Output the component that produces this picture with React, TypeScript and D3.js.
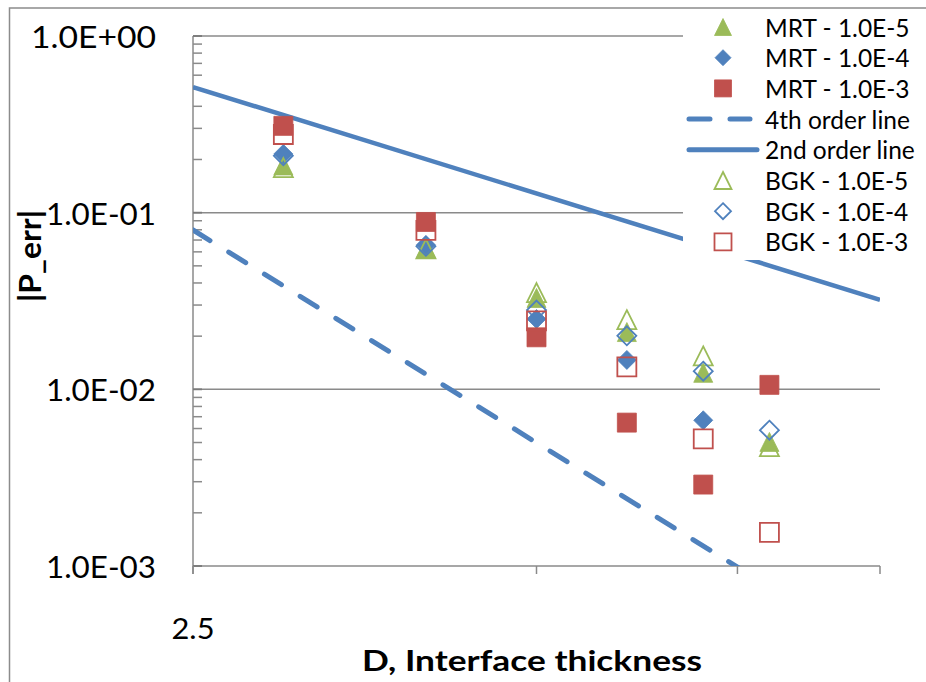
import React from "react";
import * as d3 from "d3";

const D = [3, 4, 5, 6, 7, 8];
const mrt5 = [0.185, 0.0627, 0.0329, 0.0211, 0.0124, 0.00504];
const mrt4 = [0.215, 0.0657, 0.025, 0.01467, 0.00668];
const mrt3 = [0.31, 0.0886, 0.0197, 0.00648, 0.00289, 0.0106];
const bgk5 = [0.18, 0.0625, 0.0353, 0.0248, 0.01545, 0.00474];
const bgk4 = [0.21, 0.0645, 0.0281, 0.0201, 0.01266, 0.00587];
const bgk3 = [0.277, 0.0793, 0.0244, 0.0134, 0.00524, 0.00155];

const lineD = [2.5, 10];
const secondOrder = [0.514, 0.0321];
const fourthOrder = [0.0798, 0.000312];

const yTicks = [1, 0.1, 0.01, 0.001];
const yTickLabels = ["1.0E+00", "1.0E-01", "1.0E-02", "1.0E-03"];
const xTicks = [2.5, 5, 7.5, 10];
const xTickLabels = ["2.5", "", "", ""];

const legendNames = [
  "MRT - 1.0E-5",
  "MRT - 1.0E-4",
  "MRT - 1.0E-3",
  "4th order line",
  "2nd order line",
  "BGK - 1.0E-5",
  "BGK - 1.0E-4",
  "BGK - 1.0E-3",
];

const GREEN = "#9BBB59";
const BLUE = "#4F81BD";
const RED = "#C0504D";
const GRID = "#8a8a8a";
const FONT = "Lato, 'Open Sans', sans-serif";

type Shape = "tri" | "dia" | "sq";

function Marker({ cx, cy, shape, color, filled, s }: { cx: number; cy: number; shape: Shape; color: string; filled: boolean; s: number }) {
  const h = s / 2;
  let d = "";
  if (shape === "tri") d = `M${cx},${cy - h}L${cx + h},${cy + h}L${cx - h},${cy + h}Z`;
  else if (shape === "dia") d = `M${cx},${cy - h}L${cx + h},${cy}L${cx},${cy + h}L${cx - h},${cy}Z`;
  else d = `M${cx - h},${cy - h}L${cx + h},${cy - h}L${cx + h},${cy + h}L${cx - h},${cy + h}Z`;
  return filled ? (
    <path d={d} fill={color} stroke={color} strokeWidth={0.8} strokeLinejoin="miter" />
  ) : (
    <path d={d} fill="none" stroke={color} strokeWidth={1.8} strokeLinejoin="miter" />
  );
}

export default function App() {
  const left = 193, right = 880, top = 36, bottom = 566;
  const x = d3.scaleLog().domain([2.5, 10]).range([left, right]);
  const y = d3.scaleLog().domain([0.001, 1]).range([bottom, top]);

  const minorTicks: number[] = [];
  for (let e = -3; e < 0; e++) {
    for (let k = 2; k <= 9; k++) minorTicks.push(k * Math.pow(10, e));
  }

  const line = d3
    .line<number>()
    .x((_, i) => x(lineD[i]))
    .y((v) => y(v));

  const series: { vals: number[]; shape: Shape; color: string; filled: boolean }[] = [
    { vals: mrt5, shape: "tri", color: GREEN, filled: true },
    { vals: mrt4, shape: "dia", color: BLUE, filled: true },
    { vals: mrt3, shape: "sq", color: RED, filled: true },
    { vals: bgk5, shape: "tri", color: GREEN, filled: false },
    { vals: bgk4, shape: "dia", color: BLUE, filled: false },
    { vals: bgk3, shape: "sq", color: RED, filled: false },
  ];

  const legendItems: { kind: string; shape?: Shape; color: string; filled?: boolean }[] = [
    { kind: "m", shape: "tri", color: GREEN, filled: true },
    { kind: "m", shape: "dia", color: BLUE, filled: true },
    { kind: "m", shape: "sq", color: RED, filled: true },
    { kind: "dash", color: BLUE },
    { kind: "solid", color: BLUE },
    { kind: "m", shape: "tri", color: GREEN, filled: false },
    { kind: "m", shape: "dia", color: BLUE, filled: false },
    { kind: "m", shape: "sq", color: RED, filled: false },
  ];

  const markerSize: Record<Shape, number> = { tri: 19, dia: 19, sq: 19 };
  const legendSize: Record<Shape, number> = { tri: 17, dia: 16, sq: 17 };

  return (
    <svg
      width={926}
      height={682}
      style={{ position: "fixed", left: 0, top: 0, background: "#fff" }}
      fontFamily={FONT}
    >
      <rect x={0} y={0} width={926} height={682} fill="#fff" />
      <rect x={9.5} y={8} width={960} height={720} fill="none" stroke="#8c8c8c" strokeWidth={1.5} />
      <defs>
        <clipPath id="plotclip">
          <rect x={left} y={top} width={right - left} height={bottom - top} />
        </clipPath>
      </defs>

      {/* gridlines */}
      {yTicks.map((t, i) => (
        <line key={"g" + i} x1={left} x2={right} y1={y(t)} y2={y(t)} stroke={GRID} strokeWidth={1.5} />
      ))}
      {/* y axis */}
      <line x1={left} x2={left} y1={top} y2={bottom + 8} stroke={GRID} strokeWidth={1.5} />
      {minorTicks.map((t, i) => (
        <line key={"m" + i} x1={left} x2={left + 9} y1={y(t)} y2={y(t)} stroke={GRID} strokeWidth={1.5} />
      ))}
      {yTicks.map((t, i) => (
        <line key={"mt" + i} x1={left} x2={left + 9} y1={y(t)} y2={y(t)} stroke="#7a7a7a" strokeWidth={1.8} />
      ))}
      {/* x axis ticks */}
      {xTicks.map((t, i) => (
        <line key={"xt" + i} x1={x(t)} x2={x(t)} y1={bottom} y2={bottom + 8} stroke={GRID} strokeWidth={1.5} />
      ))}

      {/* y tick labels */}
      {yTicks.map((t, i) => (
        <text
          key={"yl" + i}
          x={156}
          y={y(t)}
          textAnchor="end"
          dominantBaseline="central"
          fontSize={30}
          fill="#000"
          textLength={i === 0 ? 125 : 110}
          lengthAdjust="spacingAndGlyphs"
        >
          {yTickLabels[i]}
        </text>
      ))}
      {xTicks.map((t, i) =>
        xTickLabels[i] ? (
          <text
            key={"xl" + i}
            x={x(t)}
            y={628}
            textAnchor="middle"
            dominantBaseline="central"
            fontSize={28}
            fill="#000"
            textLength={43}
            lengthAdjust="spacingAndGlyphs"
          >
            {xTickLabels[i]}
          </text>
        ) : null
      )}

      {/* axis titles */}
      <text
        x={532}
        y={660}
        textAnchor="middle"
        dominantBaseline="central"
        fontSize={28}
        fontWeight="bold"
        fill="#000"
        textLength={340}
        lengthAdjust="spacingAndGlyphs"
      >
        D, Interface thickness
      </text>
      <text
        transform="translate(29,256) rotate(-90)"
        textAnchor="middle"
        dominantBaseline="central"
        fontSize={30}
        fontWeight="bold"
        fill="#000"
        textLength={92}
        lengthAdjust="spacingAndGlyphs"
      >
        |P_err|
      </text>

      {/* order lines */}
      <g clipPath="url(#plotclip)">
        <path d={line(fourthOrder) || ""} fill="none" stroke={BLUE} strokeWidth={5} strokeDasharray="20 22" strokeLinecap="round" />
        <path d={line(secondOrder) || ""} fill="none" stroke={BLUE} strokeWidth={4.5} />
      </g>

      {/* markers */}
      {series.map((s, si) =>
        s.vals.map((v, i) => (
          <Marker key={si + "-" + i} cx={x(D[i])} cy={y(v)} shape={s.shape} color={s.color} filled={s.filled} s={markerSize[s.shape]} />
        ))
      )}

      {/* legend */}
      <rect x={683} y={10} width={243} height={250} fill="#fff" />
      {legendItems.map((it, i) => {
        const ly = 27 + i * 30.7;
        return (
          <g key={"lg" + i}>
            {it.kind === "m" && it.shape ? (
              <Marker cx={723} cy={ly} shape={it.shape} color={it.color} filled={!!it.filled} s={legendSize[it.shape]} />
            ) : it.kind === "dash" ? (
              <line x1={689} x2={750} y1={ly} y2={ly} stroke={it.color} strokeWidth={5} strokeDasharray="21 20" strokeLinecap="round" />
            ) : (
              <line x1={689} x2={757} y1={ly} y2={ly} stroke={it.color} strokeWidth={5} strokeLinecap="round" />
            )}
            <text x={765} y={ly} dominantBaseline="central" fontSize={24.5} fill="#000">
              {legendNames[i]}
            </text>
          </g>
        );
      })}
    </svg>
  );
}
